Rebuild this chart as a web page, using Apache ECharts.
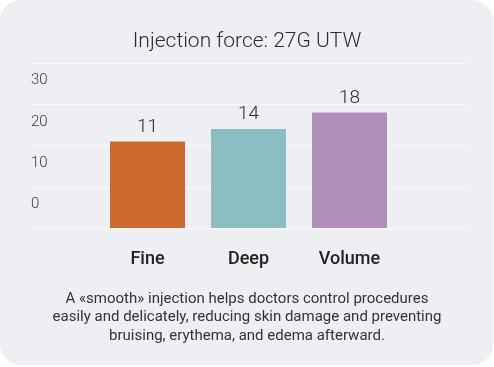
<!DOCTYPE html>
<html><head><meta charset="utf-8">
<script src="https://cdn.jsdelivr.net/npm/echarts@6/dist/echarts.min.js"></script>
<style>
html,body{margin:0;padding:0;background:#ffffff;}
#card{position:absolute;left:0;top:0;width:493px;height:365px;background:#eeeff3;border-radius:21px;}
#chart{position:absolute;left:0;top:0;width:494px;height:367px;}
</style></head>
<body><div id="card"></div><div id="chart"></div>
<script>
const titleText = 'Injection force: 27G UTW';
const categories = ['Fine', 'Deep', 'Volume'];
const values = [11, 14, 18];
const barColors = ['#cc6a30', '#8abec2', '#b08eba'];
const yTicks = [-10, 0, 10, 20, 30];
const captionLines = [
  'A «smooth» injection helps doctors control procedures',
  'easily and delicately, reducing skin damage and preventing',
  'bruising, erythema, and edema afterward.'
];

const chart = echarts.init(document.getElementById('chart'), null, {renderer: 'canvas'});
const yMin = yTicks[0], yMax = yTicks[yTicks.length - 1];
chart.setOption({
  animation: false,
  textStyle: {fontFamily: 'Roboto'},
  title: [
    {text: titleText, left: 'center', top: 24,
     textStyle: {fontFamily: 'Roboto', fontSize: 21, fontWeight: 300, color: '#2b2b2b', lineHeight: 26}},
    {text: captionLines.join('\n'), left: 'center', top: 285,
     textStyle: {fontFamily: 'Roboto', fontSize: 15, fontWeight: 400, color: '#333333', lineHeight: 18.3, align: 'center'}}
  ],
  grid: [
    {left: 31, right: 27, top: 63, height: 165},
    {left: 97, right: 94, top: 63, height: 165}
  ],
  xAxis: [
    {type: 'category', gridIndex: 0, data: categories, show: false},
    {type: 'category', gridIndex: 1, data: categories,
     axisLine: {show: false}, axisTick: {show: false},
     axisLabel: {margin: 22, fontFamily: 'Roboto', fontSize: 18, fontWeight: 500, color: '#222222'}}
  ],
  yAxis: [
    {type: 'value', gridIndex: 0, min: yMin, max: yMax, interval: 10,
     axisLine: {show: false}, axisTick: {show: false},
     splitLine: {show: true, lineStyle: {color: '#fbfbfd', width: 1}},
     axisLabel: {inside: true, margin: 0, align: 'left', verticalAlign: 'top',
       lineHeight: 35,
       fontFamily: 'Roboto', fontSize: 15, fontWeight: 300, color: '#3a3a3a',
       formatter: v => (v === yMin ? '' : String(v))}},
    {type: 'value', gridIndex: 1, min: yMin, max: yMax, interval: 10, startValue: yMin,
     show: false, splitLine: {show: false}}
  ],
  series: [{
    type: 'bar', xAxisIndex: 1, yAxisIndex: 1,
    barWidth: 75,
    data: values.map((v, i) => ({value: v, itemStyle: {color: barColors[i]}})),
    label: {show: true, position: 'top', distance: 5,
      fontFamily: 'Roboto', fontSize: 19, fontWeight: 300, color: '#2b2b2b'}
  }]
});
</script></body></html>
